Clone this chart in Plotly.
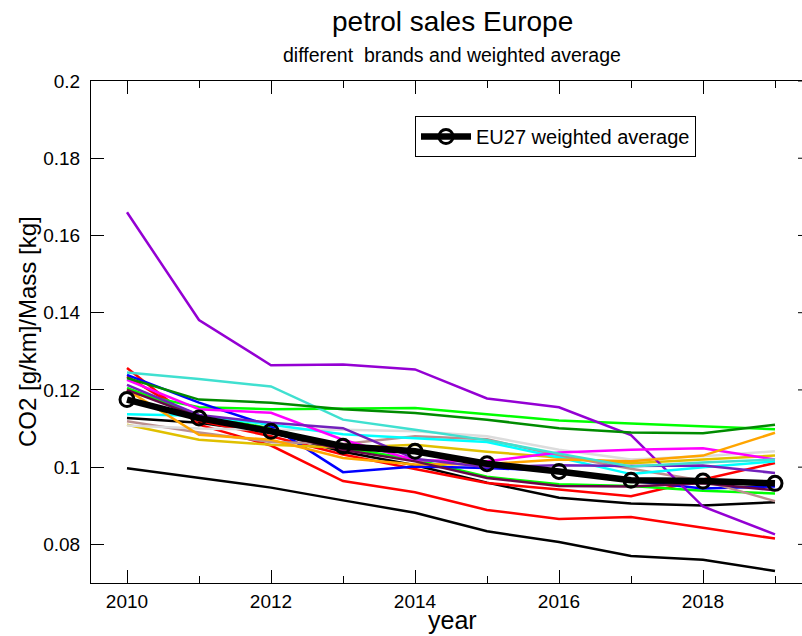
import plotly.graph_objects as go

years = [2010, 2011, 2012, 2013, 2014, 2015, 2016, 2017, 2018, 2019]

eu27 = [0.1175, 0.1127, 0.1093, 0.1054, 0.1041, 0.1009, 0.0989, 0.0966, 0.0964, 0.0958]

violet = [0.1660, 0.1381, 0.1264, 0.1266, 0.1253, 0.1178, 0.1155, 0.1083, 0.0898, 0.0826]
black_low = [0.0997, 0.0972, 0.0947, 0.0914, 0.0882, 0.0834, 0.0806, 0.0770, 0.0760, 0.0731]
red_a = [0.1257, 0.1110, 0.1056, 0.0964, 0.0935, 0.0889, 0.0866, 0.0871, 0.0843, 0.0815]
red_b = [0.1235, 0.1120, 0.1080, 0.1033, 0.0995, 0.0959, 0.0942, 0.0925, 0.0968, 0.1011]
turquoise = [0.1245, 0.1228, 0.1209, 0.1123, 0.1097, 0.1070, 0.1035, 0.1002, 0.1012, 0.1020]
cyan = [0.1137, 0.1133, 0.1110, 0.1085, 0.1075, 0.1065, 0.1025, 0.0982, 0.1000, 0.1015]
lime_up = [0.1195, 0.1155, 0.1150, 0.1152, 0.1153, 0.1137, 0.1121, 0.1113, 0.1106, 0.1098]
green4 = [0.1231, 0.1175, 0.1167, 0.1150, 0.1140, 0.1123, 0.1101, 0.1090, 0.1088, 0.1110]
lime_low = [0.1205, 0.1135, 0.1100, 0.1050, 0.1020, 0.0975, 0.0956, 0.0951, 0.0939, 0.0932]
blue = [0.1239, 0.1167, 0.1106, 0.0987, 0.1002, 0.0998, 0.0990, 0.0965, 0.0945, 0.0950]
magenta = [0.1226, 0.1150, 0.1141, 0.1071, 0.1018, 0.1015, 0.1038, 0.1045, 0.1049, 0.1020]
indigo = [0.1213, 0.1135, 0.1115, 0.1101, 0.1022, 0.1000, 0.1005, 0.1003, 0.1004, 0.0985]
maroon = [0.1200, 0.1130, 0.1090, 0.1045, 0.1015, 0.0972, 0.0951, 0.0950, 0.0958, 0.0940]
orange = [0.1200, 0.1084, 0.1071, 0.1024, 0.1007, 0.1008, 0.1020, 0.1015, 0.1030, 0.1089]
gold = [0.1110, 0.1071, 0.1058, 0.1050, 0.1058, 0.1040, 0.1025, 0.1010, 0.1020, 0.1030]
brown = [0.1119, 0.1090, 0.1065, 0.1060, 0.1080, 0.1072, 0.1030, 0.0996, 0.0965, 0.0912]
grey = [0.1108, 0.1100, 0.1097, 0.1097, 0.1093, 0.1080, 0.1045, 0.1020, 0.1028, 0.1041]
black_thin = [0.1127, 0.1115, 0.1090, 0.1040, 0.1005, 0.0960, 0.0921, 0.0906, 0.0901, 0.0909]

brands = [
    (black_low, "#000000"), (black_thin, "#000000"), (red_a, "#FF0000"), (red_b, "#FF0000"),
    (lime_up, "#00FF00"), (lime_low, "#00FF00"), (blue, "#0000FF"), (gold, "#E0C000"),
    (brown, "#BC8F8F"), (grey, "#DCDCDC"), (violet, "#9400D3"), (cyan, "#00FFFF"),
    (magenta, "#FF00FF"), (orange, "#FFA500"), (indigo, "#7221BC"), (maroon, "#670748"),
    (turquoise, "#40E0D0"), (green4, "#008B00"),
]

x_ticks = [2010, 2012, 2014, 2016, 2018]
y_ticks = [0.08, 0.1, 0.12, 0.14, 0.16, 0.18, 0.2]
y_tick_text = ["0.08", "0.1", "0.12", "0.14", "0.16", "0.18", "0.2"]

FONT = "Liberation Sans, Arial, sans-serif"

fig = go.Figure()
for vals, col in brands:
    fig.add_trace(go.Scatter(x=years, y=vals, mode="lines", line=dict(color=col, width=2.5),
                             showlegend=False, hoverinfo="skip"))

fig.add_trace(go.Scatter(x=years, y=eu27, mode="lines+markers", name="EU27 weighted average",
                         line=dict(color="black", width=6.5),
                         marker=dict(symbol="circle-open", size=14, color="black",
                                     line=dict(color="black", width=3))))

L, R, T, B = 91, 0, 81, 53
W, H = 802, 636
pw = W - L - R
ph = H - T - B

fig.update_layout(
    width=W, height=H,
    margin=dict(l=L, r=R, t=T, b=B),
    paper_bgcolor="white", plot_bgcolor="white",
    font=dict(family=FONT, color="black", size=19),
    showlegend=True,
    legend=dict(x=(415 - L) / pw, y=(583 - 116) / ph, xanchor="left", yanchor="top",
                bordercolor="black", borderwidth=1, bgcolor="white",
                font=dict(size=20, family=FONT), itemwidth=50,
                tracegroupgap=0),
)

fig.update_xaxes(
    range=[2009.5, 2009.5 + pw / 72.0],
    tickvals=x_ticks, ticks="inside", ticklen=13, tickwidth=1, tickcolor="black",
    minor=dict(ticks="inside", ticklen=7, dtick=1, tick0=2010, tickcolor="black", tickwidth=1),
    showline=True, linecolor="black", linewidth=1, mirror="ticks",
    showgrid=False, zeroline=False,
    tickfont=dict(size=19, family=FONT),
    ticklabelstandoff=1,
)
fig.update_yaxes(
    range=[0.07, 0.2],
    tickvals=y_ticks, ticktext=y_tick_text, ticks="inside", ticklen=13, tickwidth=1,
    tickcolor="black",
    showline=True, linecolor="black", linewidth=1, mirror=False,
    showgrid=False, zeroline=False,
    tickfont=dict(size=19, family=FONT),
    ticklabelstandoff=6,
)

# right-side inward ticks (frame continues past the visible page edge)
shapes = []
for v in y_ticks:
    shapes.append(dict(type="line", xref="paper", yref="y", x0=1 - 4 / pw, x1=1.0, y0=v, y1=v,
                       line=dict(color="black", width=1)))
fig.update_layout(shapes=shapes)

cx = (452 - L) / pw
fig.add_annotation(text="petrol sales Europe", xref="paper", yref="paper", x=cx,
                   y=1 + (T - 21) / ph, xanchor="center", yanchor="middle", showarrow=False,
                   font=dict(size=28, family=FONT))
fig.add_annotation(text="different  brands and weighted average", xref="paper", yref="paper",
                   x=cx, y=1 + (T - 55) / ph, xanchor="center", yanchor="middle",
                   showarrow=False, font=dict(size=19.5, family=FONT))
fig.add_annotation(text="year", xref="paper", yref="paper", x=cx, y=-(620 - (H - B)) / ph,
                   xanchor="center", yanchor="middle", showarrow=False,
                   font=dict(size=25, family=FONT))
fig.add_annotation(text="CO2 [g/km]/Mass [kg]", xref="paper", yref="paper",
                   x=-(L - 27) / pw, y=0.5, xanchor="center", yanchor="middle",
                   textangle=-90, showarrow=False, font=dict(size=24, family=FONT))

fig.write_html("out.html",
               config={"displayModeBar": False},
               post_script="document.body.style.margin='0px';document.body.style.padding='0px';"
                           "document.body.style.overflow='hidden';")
